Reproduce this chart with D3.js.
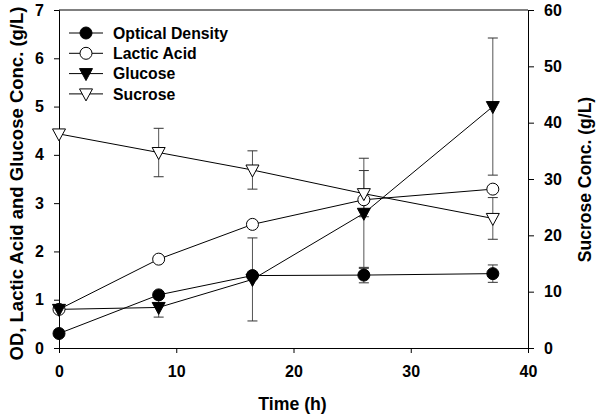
<!DOCTYPE html>
<html><head><meta charset="utf-8">
<script src="https://cdn.jsdelivr.net/npm/d3@7"></script>
<style>body{margin:0;background:#fff}svg{display:block}text{font-family:Arial,"Liberation Sans",sans-serif;font-weight:bold}</style>
</head><body><svg id="c" width="600" height="420"></svg>
<script>
const time = [0, 8.5, 16.5, 26, 37];
const od = [0.3, 1.1, 1.5, 1.51, 1.54];
const odErr = [0, 0, 0, 0.16, 0.18];
const lactic = [0.8, 1.84, 2.56, 3.07, 3.29];
const lacticErr = [0, 0, 0, 0, 0];
const glucose = [0.8, 0.84, 1.42, 2.79, 5.0];
const glucoseErr = [0, 0.2, 0.86, 1.14, 1.42];
const sucrose = [38.0, 34.7, 31.6, 27.4, 23.0];
const sucroseErr = [0, 4.3, 3.4, 4.1, 3.7];
const xTicks = [0, 10, 20, 30, 40];
const yLeftTicks = [0, 1, 2, 3, 4, 5, 6, 7];
const yRightTicks = [0, 10, 20, 30, 40, 50, 60];
const names = ["Optical Density", "Lactic Acid", "Glucose", "Sucrose"];

const svg = d3.select("#c");
const L = 59, R = 528, T = 10, B = 348;
const x = d3.scaleLinear().domain([0, 40]).range([L, R]);
const yL = d3.scaleLinear().domain([0, 7]).range([B, T]);
const yR = d3.scaleLinear().domain([0, 60]).range([B, T]);

// frame top
svg.append("line").attr("x1", L).attr("x2", R).attr("y1", T).attr("y2", T).attr("stroke", "#000");

const fmt = d3.format("d");
const gx = svg.append("g").attr("transform", `translate(0,${B})`)
  .call(d3.axisBottom(x).tickValues(xTicks).tickFormat(fmt).tickSizeOuter(0).tickSize(5).tickPadding(13));
const gl = svg.append("g").attr("transform", `translate(${L},0)`)
  .call(d3.axisLeft(yL).tickValues(yLeftTicks).tickFormat(fmt).tickSizeOuter(0).tickSize(5).tickPadding(10));
const gr = svg.append("g").attr("transform", `translate(${R},0)`)
  .call(d3.axisRight(yR).tickValues(yRightTicks).tickFormat(fmt).tickSizeOuter(0).tickSize(6).tickPadding(10));
[gx, gl, gr].forEach(g => {
  g.selectAll("path,line").attr("stroke", "#000");
  g.selectAll("text").attr("font-size", 16).attr("fill", "#000").style("font-family", "Arial, 'Liberation Sans', sans-serif").style("font-weight", "bold");
});

svg.append("text").attr("x", (L + R) / 2 - 1).attr("y", 404).attr("dy", "0.35em").attr("text-anchor", "middle").attr("font-size", 17.7).text("Time (h)");
svg.append("text").attr("transform", `translate(17,${(5 + 362) / 2}) rotate(-90)`).attr("dy", "0.35em").attr("text-anchor", "middle").attr("font-size", 18.5).text("OD, Lactic Acid and Glucose Conc. (g/L)");
svg.append("text").attr("transform", `translate(585,${(97 + 262) / 2}) rotate(-90)`).attr("dy", "0.35em").attr("text-anchor", "middle").attr("font-size", 17.5).text("Sucrose Conc. (g/L)");

const series = [
  {vals: od, err: odErr, y: yL, type: "circle", fill: "#000"},
  {vals: lactic, err: lacticErr, y: yL, type: "circle", fill: "#fff"},
  {vals: glucose, err: glucoseErr, y: yL, type: "tri", fill: "#000"},
  {vals: sucrose, err: sucroseErr, y: yR, type: "tri", fill: "#fff"}
];

function marker(g, type, fill, cx, cy) {
  if (type === "circle") {
    g.append("circle").attr("cx", cx).attr("cy", cy).attr("r", 6).attr("fill", fill).attr("stroke", "#000").attr("stroke-width", 1);
  } else {
    g.append("path").attr("d", `M${cx - 6.5},${cy - 5}L${cx + 6.5},${cy - 5}L${cx},${cy + 7}Z`).attr("fill", fill).attr("stroke", "#000").attr("stroke-width", 1);
  }
}

// error bars
series.forEach(s => {
  const g = svg.append("g");
  s.vals.forEach((v, i) => {
    const e = s.err[i];
    if (!e) return;
    const cx = x(time[i]);
    const y1 = s.y(v + e), y2 = s.y(v - e);
    g.append("line").attr("x1", cx).attr("x2", cx).attr("y1", y1).attr("y2", y2).attr("stroke", "#555");
    [y1, y2].forEach(yy => g.append("line").attr("x1", cx - 5).attr("x2", cx + 5).attr("y1", yy).attr("y2", yy).attr("stroke", "#333"));
  });
});
// lines
series.forEach(s => {
  const line = d3.line().x((d, i) => x(time[i])).y(d => s.y(d));
  svg.append("path").datum(s.vals).attr("d", line).attr("fill", "none").attr("stroke", "#000").attr("stroke-width", 1);
});
// markers
series.forEach(s => {
  const g = svg.append("g");
  s.vals.forEach((v, i) => marker(g, s.type, s.fill, x(time[i]), s.y(v)));
});

// legend
const lg = svg.append("g");
names.forEach((n, i) => {
  const yy = 33 + i * 20.3;
  lg.append("line").attr("x1", 69).attr("x2", 103).attr("y1", yy).attr("y2", yy).attr("stroke", "#000");
  marker(lg, series[i].type, series[i].fill, 86, yy);
  lg.append("text").attr("x", 113).attr("y", yy).attr("dy", "0.36em").attr("font-size", 15.8).text(n);
});
</script></body></html>
